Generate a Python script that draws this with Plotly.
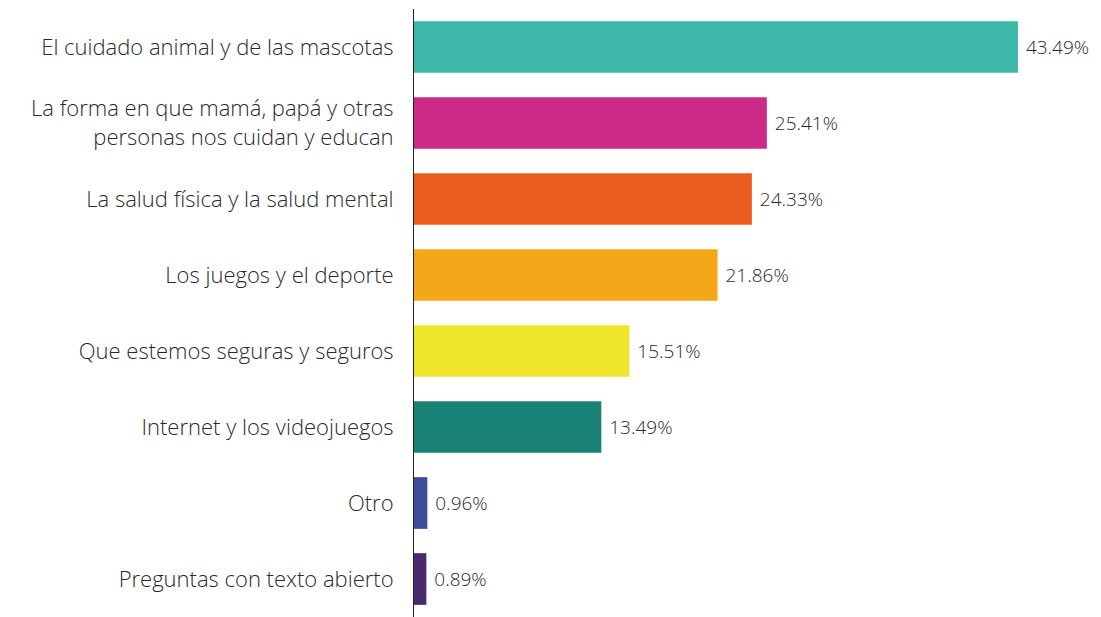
import plotly.graph_objects as go

categories = [
    "El cuidado animal y de las mascotas",
    "La forma en que mamá, papá y otras<br>personas nos cuidan y educan",
    "La salud física y la salud mental",
    "Los juegos y el deporte",
    "Que estemos seguras y seguros",
    "Internet y los videojuegos",
    "Otro",
    "Preguntas con texto abierto",
]
values = [43.49, 25.41, 24.33, 21.86, 15.51, 13.49, 0.96, 0.89]
labels = ["43.49%", "25.41%", "24.33%", "21.86%", "15.51%", "13.49%", "0.96%", "0.89%"]
colors = ["#3DB7AA", "#CC2A86", "#EB5C1F", "#F5A71A", "#EFE42C", "#1A8275", "#3F4A9A", "#4A2A6C"]

FONT = "Open Sans"

fig = go.Figure(go.Bar(
    x=values,
    y=categories,
    orientation="h",
    marker=dict(color=colors, line=dict(width=0)),
    text=[" " + t for t in labels],
    textposition="outside",
    textfont=dict(family=FONT, size=19, color="#2a2a2a", weight=300),
    cliponaxis=False,
    width=0.68,
))

fig.update_layout(
    width=1093,
    height=609,
    margin=dict(l=406, r=0, t=1, b=0, autoexpand=False),
    paper_bgcolor="white",
    plot_bgcolor="white",
    showlegend=False,
    font=dict(family=FONT, color="#2a2a2a"),
    xaxis=dict(range=[0, 49.47], visible=False, showgrid=False, zeroline=False, automargin=False),
    yaxis=dict(
        autorange="reversed",
        automargin=False,
        showline=True,
        linecolor="#222222",
        linewidth=1,
        showgrid=False,
        zeroline=False,
        ticks="",
        ticklabelstandoff=15,
        tickfont=dict(family=FONT, size=22, color="#2a2a2a", weight=300),
    ),
)

fig.write_html("out.html")
